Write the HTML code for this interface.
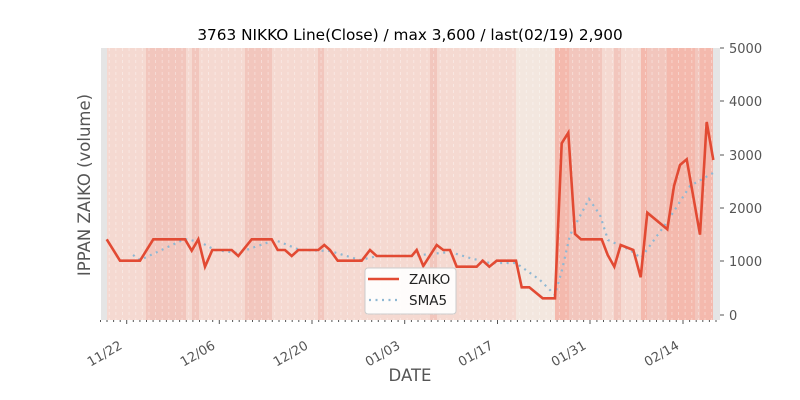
<!DOCTYPE html>
<html><head><meta charset="utf-8"><style>body{margin:0;background:#fff}svg{display:block;font-family:"DejaVu Sans","Liberation Sans",sans-serif}</style></head>
<body>
<svg width="800" height="400" viewBox="0 0 800 400">
<defs><pattern id="dl" x="0" y="0" width="6.62" height="6" patternUnits="userSpaceOnUse"><line x1="3.3" y1="0" x2="3.3" y2="3" stroke="#fff" stroke-opacity="0.45" stroke-width="0.8"/></pattern></defs>
<rect x="101" y="48" width="619" height="272" fill="#e5e5e5"/>
<rect x="107" y="48" width="606" height="272" fill="#f5d9d1"/>
<g fill="#f2c6bd">
<rect x="146" y="48" width="40" height="272"/>
<rect x="192" y="48" width="7" height="272"/>
<rect x="245" y="48" width="27" height="272"/>
<rect x="318" y="48" width="6" height="272"/>
<rect x="430" y="48" width="7" height="272"/>
<rect x="569" y="48" width="33" height="272"/>
<rect x="614" y="48" width="7" height="272"/>
<rect x="647" y="48" width="20" height="272"/>
<rect x="695" y="48" width="5" height="272"/>
</g>
<rect x="516" y="48" width="39" height="272" fill="#f3e7df"/>
<g fill="#f4b9ad">
<rect x="555" y="48" width="14" height="272"/>
<rect x="641" y="48" width="6" height="272"/>
<rect x="667" y="48" width="28" height="272"/>
<rect x="700" y="48" width="13" height="272"/>
</g>
<rect x="107" y="48" width="606" height="272" fill="url(#dl)"/>
<text x="410" y="40" text-anchor="middle" font-size="15.3" fill="#000">3763 NIKKO Line(Close) / max 3,600 / last(02/19) 2,900</text>
<g stroke="#555" stroke-width="1">
<line x1="720" y1="48" x2="724" y2="48"/><line x1="720" y1="101" x2="724" y2="101"/><line x1="720" y1="155" x2="724" y2="155"/><line x1="720" y1="208" x2="724" y2="208"/><line x1="720" y1="261" x2="724" y2="261"/><line x1="720" y1="315" x2="724" y2="315"/>
</g>
<g font-size="13" fill="#555">
<text x="729" y="53">5000</text><text x="729" y="106">4000</text><text x="729" y="160">3000</text><text x="729" y="213">2000</text><text x="729" y="266">1000</text><text x="729" y="320">0</text>
</g>
<path d="M100.5 320 v2 M107 320 v2 M113.6 320 v2 M120.2 320 v2 M133.3 320 v2 M139.9 320 v2 M146.5 320 v2 M153.1 320 v2 M159.8 320 v2 M166.4 320 v2 M173 320 v2 M179.6 320 v2 M186.3 320 v2 M192.9 320 v2 M199.5 320 v2 M206.1 320 v2 M212.7 320 v2 M226 320 v2 M232.6 320 v2 M239.2 320 v2 M245.8 320 v2 M252.5 320 v2 M259.1 320 v2 M265.7 320 v2 M272.3 320 v2 M279 320 v2 M285.6 320 v2 M292.2 320 v2 M298.8 320 v2 M305.4 320 v2 M318.7 320 v2 M325.3 320 v2 M331.9 320 v2 M338.6 320 v2 M345.2 320 v2 M351.8 320 v2 M358.4 320 v2 M365 320 v2 M371.7 320 v2 M378.3 320 v2 M384.9 320 v2 M391.5 320 v2 M398.1 320 v2 M411.4 320 v2 M418 320 v2 M424.7 320 v2 M431.3 320 v2 M437.9 320 v2 M444.5 320 v2 M451.1 320 v2 M457.8 320 v2 M464.4 320 v2 M471 320 v2 M477.6 320 v2 M484.3 320 v2 M490.9 320 v2 M504.1 320 v2 M510.8 320 v2 M517.4 320 v2 M524 320 v2 M530.6 320 v2 M537.2 320 v2 M543.9 320 v2 M550.5 320 v2 M557.1 320 v2 M563.7 320 v2 M570.4 320 v2 M577 320 v2 M583.6 320 v2 M596.9 320 v2 M603.5 320 v2 M610.1 320 v2 M616.7 320 v2 M623.3 320 v2 M630 320 v2 M636.6 320 v2 M643.2 320 v2 M649.8 320 v2 M656.5 320 v2 M663.1 320 v2 M669.7 320 v2 M676.3 320 v2 M689.6 320 v2 M696.2 320 v2 M702.8 320 v2 M709.4 320 v2 M716 320 v2 M126.7 320 v4 M219.3 320 v4 M312 320 v4 M404.7 320 v4 M497.5 320 v4 M590 320 v4 M683 320 v4" stroke="#555" stroke-width="1"/>
<g font-size="13" fill="#555" text-anchor="end">
<text transform="translate(123,348) rotate(-30)">11/22</text>
<text transform="translate(216,348) rotate(-30)">12/06</text>
<text transform="translate(309,348) rotate(-30)">12/20</text>
<text transform="translate(401,348) rotate(-30)">01/03</text>
<text transform="translate(494,348) rotate(-30)">01/17</text>
<text transform="translate(587,348) rotate(-30)">01/31</text>
<text transform="translate(680,348) rotate(-30)">02/14</text>
</g>
<text x="410" y="381" text-anchor="middle" font-size="16.5" fill="#555">DATE</text>
<text transform="translate(90,185) rotate(-90)" text-anchor="middle" font-size="16.5" fill="#555">IPPAN ZAIKO (volume)</text>
<polyline fill="none" stroke="#8fb8d3" stroke-width="2.2" stroke-dasharray="2,4.5" points="133,255 140,260 153,254 170,246 185,239 200,242 215,250 238,253 252,248 275,240 300,250 330,251 360,260 378,256 411,256 450,252 470,258 490,263 516,263 540,280 555,295 562,270 570,235 589,199 600,215 608,240 630,250 641,258 667,222 690,186 713,173"/>
<polyline fill="none" stroke="#e24a33" stroke-width="2.6" stroke-linejoin="miter" points="106.7,239.3 120,260.7 140,260.7 153.3,239.3 185,239.3 191.7,250.7 198.3,239.3 205,266.7 212.3,250 231.7,250 238.3,256 251.7,239.3 271.7,239.3 277.7,250 285,250 291.7,256 298.3,250 318.3,250 324.3,245 330,250 337.7,260.7 361.7,260.7 370,250 376.7,256 411.7,256 416.7,250 423.3,266 436.7,245 443.3,250 450,250 456.7,266.7 476.7,266.7 482.7,260.7 489.3,266.7 496.7,260.7 516,260.7 521.7,287.3 529.3,287.3 542.7,298.3 555,298.3 561.7,143.3 568.3,132.7 575,234 581,239.3 601.7,239.3 607.7,255 614.3,266.7 620.7,245 633.3,250 640.7,277.3 647.3,212.7 667.3,229.3 674,186 680,165 686.7,159.3 700,234.7 706.7,122 713.3,160"/>
<rect x="365" y="268" width="91" height="46" rx="3" fill="#fff" fill-opacity="0.9" stroke="#ccc" stroke-width="1"/>
<line x1="368" y1="279" x2="399" y2="279" stroke="#e24a33" stroke-width="2.6"/>
<line x1="369" y1="300" x2="399" y2="300" stroke="#8fb8d3" stroke-width="2.2" stroke-dasharray="2,4.5"/>
<text x="409" y="284" font-size="13.5" fill="#222">ZAIKO</text>
<text x="409" y="305" font-size="13.5" fill="#222">SMA5</text>
</svg>
</body></html>
